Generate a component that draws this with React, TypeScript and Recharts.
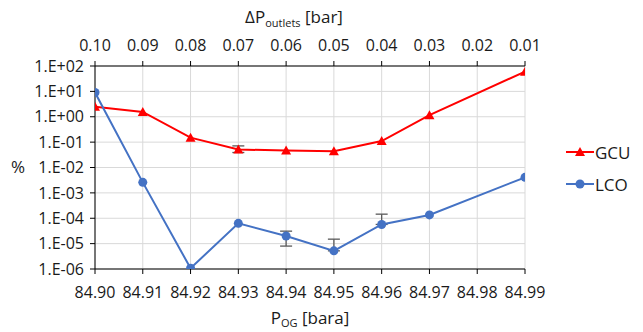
import React from "react";
import {
  LineChart,
  Line,
  XAxis,
  YAxis,
  CartesianGrid,
  ErrorBar,
  Label,
} from "recharts";

// P_OG [bara] at each measured point (no data at 84.98)
const pOG = [84.9, 84.91, 84.92, 84.93, 84.94, 84.95, 84.96, 84.97, 84.99];
const gcu = [2.5, 1.55, 0.15, 0.051, 0.047, 0.044, 0.11, 1.15, 60];
const lco = [9, 0.0026, 1.07e-6, 6.3e-5, 2e-5, 5.2e-6, 5.7e-5, 1.35e-4, 0.0041];
// [below, above]; null = no error bar
const gcuErr = [null, null, null, [0.012, 0.02], null, null, null, null, null];
const lcoErr = [null, null, null, null, [1.2e-5, 1.1e-5], [0, 9.8e-6], [0, 8.8e-5], null, null];

const xTicks = [84.9, 84.91, 84.92, 84.93, 84.94, 84.95, 84.96, 84.97, 84.98, 84.99];
const dpLabels = ["0.10", "0.09", "0.08", "0.07", "0.06", "0.05", "0.04", "0.03", "0.02", "0.01"];
const yTicks = [1e-6, 1e-5, 1e-4, 1e-3, 1e-2, 1e-1, 1, 10, 100];

const data = pOG.map((p, i) => ({
  p,
  gcu: gcu[i],
  lco: lco[i],
  gcuErr: gcuErr[i],
  lcoErr: lcoErr[i],
}));

const FONT = "'Open Sans', sans-serif";
const TXT = "#1a1a1a";
const RED = "#ff0000";
const BLUE = "#4472c4";

const fmtExp = (v: number) => {
  const e = Math.round(Math.log10(v));
  return `1.E${e < 0 ? "-" : "+"}${String(Math.abs(e)).padStart(2, "0")}`;
};

const Triangle = (props: any) => {
  const { cx, cy, fill } = props;
  if (cx == null || cy == null) return null;
  return <path d={`M${cx},${cy - 5} L${cx + 5},${cy + 4} L${cx - 5},${cy + 4} Z`} fill={fill} />;
};

const Circle = (props: any) => {
  const { cx, cy, fill } = props;
  if (cx == null || cy == null) return null;
  return <circle cx={cx} cy={cy} r={4.5} fill={fill} />;
};

const LegendBox = () => (
  <div
    style={{
      position: "absolute",
      left: 566,
      top: 136,
      fontFamily: FONT,
      fontSize: 17,
      color: TXT,
    }}
  >
    {[
      { name: "GCU", color: RED, tri: true },
      { name: "LCO", color: BLUE, tri: false },
    ].map((s) => (
      <div key={s.name} style={{ display: "flex", alignItems: "center", height: 32 }}>
        <svg width={28} height={12}>
          <line x1={0} y1={6} x2={28} y2={6} stroke={s.color} strokeWidth={2} />
          {s.tri ? (
            <path d="M14,1 L19,10 L9,10 Z" fill={s.color} />
          ) : (
            <circle cx={14} cy={6} r={4.5} fill={s.color} />
          )}
        </svg>
        <span style={{ marginLeft: 1 }}>{s.name}</span>
      </div>
    ))}
  </div>
);

export default function App() {
  return (
    <div style={{ position: "absolute", left: 0, top: 0, width: 643, height: 332, background: "#fff" }}>
      <LineChart
        width={643}
        height={332}
        data={data}
        margin={{ top: 20, right: 118, bottom: 23, left: 30 }}
      >
        <CartesianGrid stroke="#d9d9d9" strokeWidth={1} />
        <XAxis
          dataKey="p"
          type="number"
          domain={[84.9, 84.99]}
          allowDataOverflow
          ticks={xTicks}
          interval={0}
          tickFormatter={(v: number) => v.toFixed(2)}
          height={40}
          tickSize={5}
          tickMargin={13}
          axisLine={{ stroke: "#000" }}
          tickLine={{ stroke: "#000" }}
          tick={{ fill: TXT, fontFamily: FONT, fontSize: 16 }}
        >
          <Label
            content={() => (
              <text x={310} y={324} textAnchor="middle" fill={TXT} fontFamily={FONT} fontSize={17}>
                P<tspan dy={3} fontSize={11}>OG</tspan>
                <tspan dy={-3}> [bara]</tspan>
              </text>
            )}
          />
        </XAxis>
        <XAxis
          xAxisId="top"
          orientation="top"
          dataKey="p"
          type="number"
          domain={[84.9, 84.99]}
          allowDataOverflow
          ticks={xTicks}
          interval={0}
          tickFormatter={(v: number, i: number) => dpLabels[i]}
          height={46}
          tickSize={5}
          tickMargin={10}
          axisLine={{ stroke: "#000" }}
          tickLine={{ stroke: "#000" }}
          tick={{ fill: TXT, fontFamily: FONT, fontSize: 16 }}
        >
          <Label
            content={() => (
              <text x={294} y={23} textAnchor="middle" fill={TXT} fontFamily={FONT} fontSize={17}>
                ΔP<tspan dy={4} fontSize={11}>outlets</tspan>
                <tspan dy={-4}> [bar]</tspan>
              </text>
            )}
          />
        </XAxis>
        <YAxis
          scale="log"
          domain={[1e-6, 100]}
          allowDataOverflow
          ticks={yTicks}
          interval={0}
          tickFormatter={fmtExp}
          width={65}
          tickSize={5}
          tickMargin={6}
          axisLine={{ stroke: "#000" }}
          tickLine={{ stroke: "#000" }}
          tick={{ fill: TXT, fontFamily: FONT, fontSize: 16 }}
        >
          <Label
            content={() => (
              <text x={18} y={173} textAnchor="middle" fill={TXT} fontFamily={FONT} fontSize={17}>
                %
              </text>
            )}
          />
        </YAxis>
        <Line
          dataKey="gcu"
          name="GCU"
          stroke={RED}
          strokeWidth={2}
          dot={<Triangle fill={RED} />}
          activeDot={false}
          isAnimationActive={false}
        >
          <ErrorBar dataKey="gcuErr" direction="y" width={6} stroke="#595959" strokeWidth={1.3} />
        </Line>
        <Line
          dataKey="lco"
          name="LCO"
          stroke={BLUE}
          strokeWidth={2}
          dot={<Circle fill={BLUE} />}
          activeDot={false}
          isAnimationActive={false}
        >
          <ErrorBar dataKey="lcoErr" direction="y" width={6} stroke="#595959" strokeWidth={1.3} />
        </Line>
      </LineChart>
      <LegendBox />
    </div>
  );
}
